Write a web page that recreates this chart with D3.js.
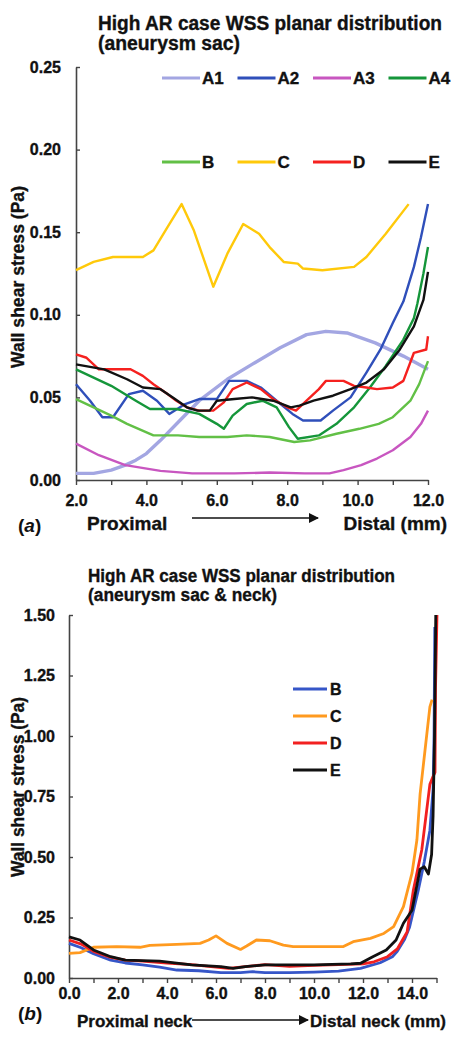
<!DOCTYPE html>
<html><head><meta charset="utf-8">
<script src="https://cdn.jsdelivr.net/npm/d3@7"></script>
<style>
body{margin:0;background:#fff}
text{font-family:"Liberation Sans",Arial,sans-serif;font-weight:bold;fill:#111;stroke:#111;stroke-width:0.35px}
text.plain{stroke:none}
</style>
</head><body>
<svg id="c" width="462" height="1050"></svg>
<script>
// ---------- DATA ----------
const topXTicks = [2,3,4,5,6,7,8,9,10,11,12];
const topYTicks = [0,0.05,0.10,0.15,0.20,0.25];
const topSeriesNames = ["A1","A2","A3","A4","B","C","D","E"];
const topA1 = [[2.0,0.004],[2.5,0.004],[3.0,0.006],[3.4,0.009],[3.7,0.012],[4.0,0.016],[4.4,0.024],[4.95,0.036],[5.5,0.048],[6.3,0.061],[7.0,0.070],[7.8,0.080],[8.55,0.088],[9.1,0.090],[9.7,0.089],[10.5,0.083],[11.3,0.075],[12.0,0.067]];
const topA2 = [[2.0,0.058],[2.4,0.048],[2.75,0.038],[3.05,0.038],[3.5,0.052],[3.9,0.054],[4.3,0.048],[4.65,0.040],[5.1,0.046],[5.5,0.049],[6.0,0.049],[6.35,0.060],[6.85,0.060],[7.25,0.056],[7.7,0.048],[8.15,0.040],[8.45,0.036],[8.95,0.036],[9.3,0.042],[9.8,0.050],[10.25,0.065],[10.65,0.079],[11.0,0.095],[11.3,0.108],[11.6,0.129],[11.8,0.147],[12.0,0.167]];
const topA3 = [[2.0,0.022],[2.65,0.015],[3.4,0.009],[4.4,0.0055],[5.3,0.004],[6.5,0.004],[7.5,0.0045],[8.5,0.004],[9.2,0.004],[9.6,0.006],[10.1,0.009],[10.55,0.013],[11.0,0.018],[11.5,0.026],[11.8,0.034],[12.0,0.042]];
const topA4 = [[2.0,0.067],[2.5,0.062],[3.0,0.057],[3.7,0.048],[4.1,0.043],[4.85,0.043],[5.5,0.040],[6.0,0.034],[6.2,0.031],[6.45,0.039],[6.85,0.046],[7.3,0.048],[7.7,0.044],[8.05,0.032],[8.3,0.025],[8.9,0.027],[9.4,0.034],[9.9,0.044],[10.35,0.056],[10.8,0.069],[11.3,0.085],[11.6,0.098],[11.7,0.107],[11.87,0.125],[12.0,0.141]];
const topB = [[2.0,0.049],[2.5,0.044],[3.0,0.039],[3.45,0.034],[4.2,0.027],[4.9,0.027],[5.5,0.026],[6.3,0.026],[6.85,0.027],[7.5,0.026],[8.2,0.023],[8.65,0.024],[9.4,0.028],[10.05,0.031],[10.6,0.034],[11.0,0.038],[11.5,0.048],[11.75,0.058],[12.0,0.072]];
const topC = [[2.0,0.127],[2.5,0.132],[3.05,0.135],[3.9,0.135],[4.2,0.139],[4.6,0.153],[5.0,0.167],[5.35,0.151],[5.9,0.117],[6.3,0.137],[6.75,0.155],[7.2,0.149],[7.5,0.141],[7.9,0.132],[8.3,0.131],[8.45,0.128],[9.0,0.127],[9.9,0.129],[10.25,0.135],[10.8,0.149],[11.45,0.167]];
const topD = [[2.0,0.076],[2.3,0.074],[2.65,0.067],[3.55,0.067],[3.9,0.063],[4.2,0.058],[4.6,0.052],[4.85,0.048],[5.15,0.044],[5.5,0.042],[5.9,0.042],[6.2,0.047],[6.45,0.055],[6.85,0.059],[7.25,0.055],[7.6,0.049],[8.0,0.044],[8.25,0.042],[8.55,0.048],[8.9,0.055],[9.1,0.060],[9.6,0.060],[9.9,0.057],[10.25,0.056],[10.55,0.055],[11.0,0.056],[11.3,0.060],[11.6,0.077],[11.95,0.079],[12.0,0.087]];
const topE = [[2.0,0.070],[2.8,0.067],[3.45,0.061],[3.9,0.056],[4.4,0.055],[4.75,0.050],[5.15,0.044],[5.45,0.042],[5.8,0.042],[6.0,0.048],[6.5,0.049],[7.0,0.050],[7.6,0.048],[8.1,0.044],[8.35,0.045],[8.75,0.048],[9.3,0.051],[9.8,0.055],[10.25,0.059],[10.75,0.067],[11.2,0.079],[11.6,0.093],[11.87,0.109],[12.0,0.126]];

const botXTicks = [0,1,2,3,4,5,6,7,8,9,10,11,12,13,14,15];
const botYTicks = [0,0.25,0.5,0.75,1.0,1.25,1.5];
const botSeriesNames = ["B","C","D","E"];
const botB = [[0,0.143],[0.5,0.125],[1.0,0.100],[1.7,0.074],[2.3,0.062],[3.0,0.054],[3.7,0.045],[4.4,0.033],[5.3,0.030],[6.2,0.022],[7.0,0.022],[7.5,0.026],[8.0,0.022],[9.0,0.022],[10.0,0.024],[11.0,0.028],[11.9,0.040],[12.7,0.063],[13.2,0.088],[13.4,0.110],[13.7,0.160],[13.9,0.210],[14.25,0.360],[14.5,0.480],[14.73,0.610],[14.86,0.780],[14.9,1.000],[14.93,1.450]];
const botC = [[0,0.102],[0.45,0.105],[1.0,0.127],[1.95,0.130],[2.9,0.127],[3.3,0.135],[4.4,0.139],[5.35,0.143],[5.7,0.157],[6.0,0.174],[6.45,0.143],[7.0,0.118],[7.25,0.132],[7.65,0.157],[8.2,0.154],[8.75,0.136],[9.15,0.130],[11.2,0.130],[11.6,0.150],[12.3,0.164],[12.85,0.184],[13.25,0.212],[13.65,0.295],[14.0,0.433],[14.2,0.570],[14.33,0.760],[14.53,0.940],[14.73,1.120],[14.82,1.150]];
const botD = [[0,0.157],[0.5,0.140],[1.0,0.110],[1.7,0.085],[2.3,0.074],[3.0,0.070],[4.0,0.062],[5.0,0.055],[6.0,0.045],[6.5,0.040],[7.0,0.045],[7.5,0.050],[8.0,0.055],[9.0,0.048],[10.0,0.052],[11.0,0.055],[12.0,0.058],[12.45,0.067],[13.0,0.088],[13.4,0.120],[13.8,0.190],[14.05,0.360],[14.4,0.530],[14.73,0.800],[14.85,0.830],[14.94,0.850],[14.96,1.200],[15.02,1.500]];
const botE = [[0,0.170],[0.45,0.157],[1.0,0.116],[1.7,0.088],[2.3,0.074],[3.7,0.070],[5.0,0.054],[6.2,0.047],[6.7,0.040],[7.2,0.047],[8.0,0.054],[10.0,0.054],[11.5,0.058],[11.9,0.061],[12.4,0.088],[12.95,0.116],[13.35,0.157],[13.65,0.226],[14.0,0.280],[14.33,0.450],[14.5,0.460],[14.67,0.430],[14.8,0.510],[14.86,0.670],[14.92,1.000],[14.97,1.500]];

// ---------- DRAW ----------
const svg = d3.select("#c");
const topColors = {A1:"#a3a6e2",A2:"#2f4fba",A3:"#c856c0",A4:"#15963a",B:"#62c046",C:"#ffc90a",D:"#f5211f",E:"#111111"};
const topData = {A1:topA1,A2:topA2,A3:topA3,A4:topA4,B:topB,C:topC,D:topD,E:topE};
const botColors = {B:"#3656c8",C:"#ff9a1f",D:"#f22020",E:"#111111"};
const botData = {B:botB,C:botC,D:botD,E:botE};

svg.append("defs").append("marker").attr("id","arr").attr("viewBox","0 0 10 10")
  .attr("refX",9).attr("refY",5).attr("markerWidth",12).attr("markerHeight",10)
  .attr("markerUnits","userSpaceOnUse").attr("orient","auto")
  .append("path").attr("d","M0,0L10,5L0,10z").attr("fill","#111");

function txt(x,y,s,size,len,anchor){
  const t = svg.append("text").attr("x",x).attr("y",y).attr("font-size",size).text(s);
  if(len) t.attr("textLength",len).attr("lengthAdjust","spacingAndGlyphs");
  if(anchor) t.attr("text-anchor",anchor);
  return t;
}
function panel(o){
  const x = d3.scaleLinear().domain(o.xd).range(o.xr);
  const y = d3.scaleLinear().domain(o.yd).range(o.yr);
  const ya = svg.append("g").attr("transform",`translate(${o.xr[0]},0)`)
    .call(d3.axisLeft(y).tickValues(o.yTicks).tickFormat(d3.format(".2f")).tickSizeInner(-4).tickSizeOuter(0).tickPadding(o.yPad));
  const xa = svg.append("g").attr("transform",`translate(0,${o.yr[0]})`)
    .call(d3.axisBottom(x).tickValues(o.xTicks).tickFormat(d=> d%2===0 ? d.toFixed(1):"").tickSizeInner(5).tickSizeOuter(0).tickPadding(o.xPad));
  [ya,xa].forEach(g=>{
    g.select(".domain").attr("stroke","#444").attr("stroke-width",1.6);
    g.selectAll(".tick line").attr("stroke","#444").attr("stroke-width",1.4);
    g.selectAll("text").attr("font-size",16).attr("font-family",null).attr("fill","#111");
  });
  const line = d3.line().x(d=>x(d[0])).y(d=>y(d[1]));
  o.names.forEach(n=>{
    svg.append("path").datum(o.data[n]).attr("d",line).attr("fill","none")
      .attr("stroke",o.colors[n]).attr("stroke-width",n==="A1"?3.4:o.lw)
      .attr("stroke-linejoin","round");
  });
  return {x,y};
}

// Top panel
panel({xd:[2,12],xr:[76,428],yd:[0,0.25],yr:[480,67],xTicks:topXTicks,yTicks:topYTicks,
  yPad:15,xPad:10,names:topSeriesNames,data:topData,colors:topColors,lw:2.4});
txt(98,30,"High AR case WSS planar distribution",20,344);
txt(98,50,"(aneurysm sac)",20,142);
svg.append("text").attr("transform","translate(24,277) rotate(-90)").attr("text-anchor","middle")
  .attr("font-size",18).attr("textLength",182).attr("lengthAdjust","spacingAndGlyphs").text("Wall shear stress (Pa)");
topSeriesNames.forEach((n,i)=>{
  const col=i%4, row=Math.floor(i/4);
  const lx=162+col*75.5, ly= row===0?78:162;
  svg.append("line").attr("x1",lx).attr("x2",lx+38).attr("y1",ly).attr("y2",ly)
    .attr("stroke",topColors[n]).attr("stroke-width",3);
  txt(lx+40,ly+6,n,17);
});
txt(87,530,"Proximal",19);
svg.append("line").attr("x1",192).attr("x2",318).attr("y1",518).attr("y2",518)
  .attr("stroke","#111").attr("stroke-width",1.6).attr("marker-end","url(#arr)");
txt(447,530,"Distal (mm)",19,null,"end");
const la = svg.append("text").attr("class","plain").attr("x",18).attr("y",532).attr("font-size",19).attr("font-weight","normal");
la.append("tspan").text("(");
la.append("tspan").attr("font-style","italic").text("a");
la.append("tspan").text(")");

// Bottom panel
panel({xd:[0,15],xr:[69,436.5],yd:[0,1.5],yr:[978,615],xTicks:botXTicks,yTicks:botYTicks,
  yPad:14,xPad:5,names:botSeriesNames,data:botData,colors:botColors,lw:2.8});
txt(88,582,"High AR case WSS planar distribution",18,307);
txt(88,601,"(aneurysm sac & neck)",18,189);
svg.append("text").attr("transform","translate(24,787) rotate(-90)").attr("text-anchor","middle")
  .attr("font-size",18).attr("textLength",180).attr("lengthAdjust","spacingAndGlyphs").text("Wall shear stress (Pa)");
botSeriesNames.forEach((n,i)=>{
  const ly=689+i*27;
  svg.append("line").attr("x1",293).attr("x2",327).attr("y1",ly).attr("y2",ly)
    .attr("stroke",botColors[n]).attr("stroke-width",3);
  txt(330,ly+6,n,16);
});
txt(77,1027,"Proximal neck",17);
svg.append("line").attr("x1",192).attr("x2",308).attr("y1",1020).attr("y2",1020)
  .attr("stroke","#111").attr("stroke-width",1.6).attr("marker-end","url(#arr)");
txt(446,1027,"Distal neck (mm)",17,null,"end");
const lb = svg.append("text").attr("class","plain").attr("x",18).attr("y",1020).attr("font-size",19).attr("font-weight","normal");
lb.append("tspan").text("(");
lb.append("tspan").attr("font-style","italic").text("b");
lb.append("tspan").text(")");
</script>
</body></html>
